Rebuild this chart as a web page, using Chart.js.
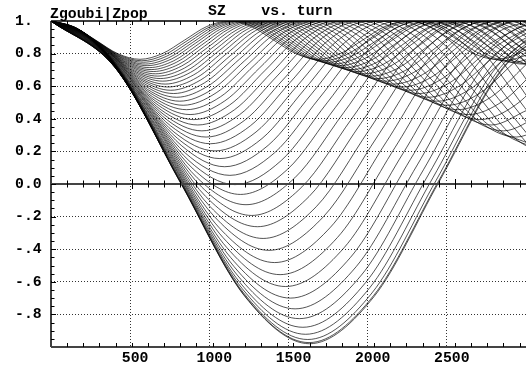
<!DOCTYPE html>
<html>
<head>
<meta charset="utf-8">
<title>SZ vs. turn</title>
<script src="https://cdn.jsdelivr.net/npm/chart.js@4.4.0/dist/chart.umd.min.js"></script>
<style>
  html, body { margin: 0; padding: 0; background: #fff; }
  canvas { display: block; }
</style>
</head>
<body>
<canvas id="sz" width="526" height="370"></canvas>
<script>
const titleLeft = 'Zgoubi|Zpop';
const titleRight = 'SZ    vs. turn';

const xTickLabels = ['', '500', '1000', '1500', '2000', '2500'];
const yTickLabels = ['', '-.8', '-.6', '-.4', '-.2', '0.0', '0.2', '0.4', '0.6', '0.8', '1.'];

// turn numbers sampled along each curve
const curveTurns = [
  [0,400,800,1200,1600,2000,2400,2800,3200],
  [0,399,799,1198,1597,1997,2396,2795,3195],
  [0,397,795,1192,1589,1987,2384,2781,3179],
  [0,394,788,1182,1576,1970,2364,2759,3153],
  [0,390,779,1169,1559,1948,2338,2728,3117],
  [0,384,768,1153,1537,1921,2305,2689,3073],
  [0,378,756,1133,1511,1889,2267,2644,3022],
  [0,371,741,1112,1482,1853,2224,2594,2965],
  [0,363,726,1089,1451,1814,2177,2540,2903,3266],
  [0,355,709,1064,1418,1773,2128,2482,2837,3191],
  [0,346,692,1038,1384,1730,2076,2422,2768,3114],
  [0,337,674,1012,1349,1686,2023,2360,2698,3035],
  [0,328,657,985,1313,1642,1970,2298,2626,2955],
  [0,319,639,958,1278,1597,1916,2236,2555,2875,3194],
  [0,311,621,932,1242,1553,1863,2174,2484,2795,3105],
  [0,302,604,905,1207,1509,1811,2112,2414,2716,3018],
  [0,293,586,880,1173,1466,1759,2052,2346,2639,2932,3225],
  [0,285,570,854,1139,1424,1709,1994,2279,2563,2848,3133],
  [0,277,553,830,1107,1383,1660,1937,2214,2490,2767,3044],
  [0,269,538,806,1075,1344,1613,1882,2150,2419,2688,2957],
  [0,261,522,784,1045,1306,1567,1828,2089,2351,2612,2873,3134],
  [0,254,508,761,1015,1269,1523,1777,2031,2284,2538,2792,3046],
  [0,247,493,740,987,1234,1480,1727,1974,2221,2467,2714,2961],
  [0,240,480,720,960,1200,1440,1679,1919,2159,2399,2639,2879,3119],
  [0,233,467,700,934,1167,1400,1634,1867,2100,2334,2567,2801,3034],
  [0,227,454,681,908,1135,1363,1590,1817,2044,2271,2498,2725,2952],
  [0,221,442,663,884,1105,1326,1547,1768,1990,2211,2432,2653,2874,3095],
  [0,215,431,646,861,1076,1292,1507,1722,1938,2153,2368,2583,2799,3014],
  [0,210,419,629,839,1049,1258,1468,1678,1888,2097,2307,2517,2726,2936,3146],
  [0,204,409,613,818,1022,1226,1431,1635,1840,2044,2249,2453,2657,2862,3066],
  [0,199,399,598,797,997,1196,1395,1594,1794,1993,2192,2392,2591,2790,2990],
  [0,194,389,583,778,972,1167,1361,1555,1750,1944,2139,2333,2527,2722,2916,3111],
  [0,190,379,569,759,949,1138,1328,1518,1708,1897,2087,2277,2466,2656,2846,3036],
  [0,185,370,556,741,926,1111,1297,1482,1667,1852,2038,2223,2408,2593,2778,2964],
  [0,181,362,543,724,905,1085,1266,1447,1628,1809,1990,2171,2352,2533,2714,2895,3075],
  [0,177,354,530,707,884,1061,1237,1414,1591,1768,1944,2121,2298,2475,2651,2828,3005],
  [0,173,346,518,691,864,1037,1209,1382,1555,1728,1901,2073,2246,2419,2592,2764,2937,3110],
  [0,169,338,507,676,845,1014,1183,1352,1521,1690,1858,2027,2196,2365,2534,2703,2872,3041],
  [0,165,331,496,661,826,992,1157,1322,1487,1653,1818,1983,2149,2314,2479,2644,2810,2975],
  [0,162,323,485,647,809,970,1132,1294,1456,1617,1779,1941,2102,2264,2426,2588,2749,2911,3073],
  [0,158,317,475,633,792,950,1108,1267,1425,1583,1742,1900,2058,2217,2375,2533,2692,2850,3008],
  [0,155,310,465,620,775,930,1085,1240,1396,1551,1706,1861,2016,2171,2326,2481,2636,2791,2946],
  [0,152,304,456,608,760,911,1063,1215,1367,1519,1671,1823,1975,2127,2279,2430,2582,2734,2886,3038],
  [0,149,298,447,595,744,893,1042,1191,1340,1489,1638,1786,1935,2084,2233,2382,2531,2680,2829,2977],
  [0,146,292,438,584,730,876,1022,1168,1313,1459,1605,1751,1897,2043,2189,2335,2481,2627,2773,2919,3065],
  [0,143,286,429,572,716,859,1002,1145,1288,1431,1574,1717,1860,2004,2147,2290,2433,2576,2719,2862,3005],
  [0,140,281,421,562,702,842,983,1123,1264,1404,1544,1685,1825,1965,2106,2246,2387,2527,2667,2808,2948],
  [0,138,276,413,551,689,827,964,1102,1240,1378,1515,1653,1791,1929,2066,2204,2342,2480,2617,2755,2893,3031]
];

// SZ at those turns
const curveSZ = [
  [1,0.710,0.010,-0.690,-0.980,-0.690,0.010,0.710,1],
  [1,0.711,0.013,-0.684,-0.973,-0.684,0.013,0.711,1],
  [1,0.714,0.023,-0.668,-0.954,-0.668,0.023,0.714,1],
  [1,0.719,0.039,-0.640,-0.922,-0.640,0.039,0.719,1],
  [1,0.725,0.061,-0.604,-0.879,-0.604,0.061,0.725,1],
  [1,0.733,0.087,-0.559,-0.826,-0.559,0.087,0.733,1],
  [1,0.741,0.117,-0.507,-0.766,-0.507,0.117,0.741,1],
  [1,0.751,0.150,-0.451,-0.700,-0.451,0.150,0.751,1],
  [1,0.761,0.185,-0.391,-0.629,-0.391,0.185,0.761,1,0.761],
  [1,0.772,0.222,-0.328,-0.556,-0.328,0.222,0.772,1,0.772],
  [1,0.783,0.259,-0.265,-0.482,-0.265,0.259,0.783,1,0.783],
  [1,0.794,0.296,-0.201,-0.407,-0.201,0.296,0.794,1,0.794],
  [1,0.805,0.333,-0.139,-0.334,-0.139,0.333,0.805,1,0.805],
  [1,0.815,0.369,-0.077,-0.262,-0.077,0.369,0.815,1,0.815,0.369],
  [1,0.825,0.403,-0.018,-0.193,-0.018,0.403,0.825,1,0.825,0.403],
  [1,0.835,0.437,0.038,-0.127,0.038,0.437,0.835,1,0.835,0.437],
  [1,0.844,0.468,0.092,-0.064,0.092,0.468,0.844,1,0.844,0.468,0.092],
  [1,0.853,0.498,0.143,-0.004,0.143,0.498,0.853,1,0.853,0.498,0.143],
  [1,0.861,0.526,0.191,0.053,0.191,0.526,0.861,1,0.861,0.526,0.191],
  [1,0.869,0.553,0.237,0.106,0.237,0.553,0.869,1,0.869,0.553,0.237],
  [1,0.876,0.578,0.279,0.156,0.279,0.578,0.876,1,0.876,0.578,0.279,0.156],
  [1,0.883,0.601,0.319,0.203,0.319,0.601,0.883,1,0.883,0.601,0.319,0.203],
  [1,0.890,0.623,0.357,0.247,0.357,0.623,0.890,1,0.890,0.623,0.357,0.247],
  [1,0.896,0.644,0.392,0.288,0.392,0.644,0.896,1,0.896,0.644,0.392,0.288,0.392],
  [1,0.901,0.663,0.425,0.326,0.425,0.663,0.901,1,0.901,0.663,0.425,0.326,0.425],
  [1,0.907,0.681,0.455,0.362,0.455,0.681,0.907,1,0.907,0.681,0.455,0.362,0.455],
  [1,0.911,0.698,0.484,0.395,0.484,0.698,0.911,1,0.911,0.698,0.484,0.395,0.484,0.698],
  [1,0.916,0.713,0.510,0.426,0.510,0.713,0.916,1,0.916,0.713,0.510,0.426,0.510,0.713],
  [1,0.920,0.728,0.535,0.456,0.535,0.728,0.920,1,0.920,0.728,0.535,0.456,0.535,0.728,0.920],
  [1,0.924,0.741,0.559,0.483,0.559,0.741,0.924,1,0.924,0.741,0.559,0.483,0.559,0.741,0.924],
  [1,0.928,0.754,0.580,0.508,0.580,0.754,0.928,1,0.928,0.754,0.580,0.508,0.580,0.754,0.928],
  [1,0.931,0.766,0.601,0.532,0.601,0.766,0.931,1,0.931,0.766,0.601,0.532,0.601,0.766,0.931,1],
  [1,0.935,0.777,0.620,0.555,0.620,0.777,0.935,1,0.935,0.777,0.620,0.555,0.620,0.777,0.935,1],
  [1,0.938,0.788,0.638,0.575,0.638,0.788,0.938,1,0.938,0.788,0.638,0.575,0.638,0.788,0.938,1],
  [1,0.941,0.798,0.654,0.595,0.654,0.798,0.941,1,0.941,0.798,0.654,0.595,0.654,0.798,0.941,1,0.941],
  [1,0.943,0.807,0.670,0.613,0.670,0.807,0.943,1,0.943,0.807,0.670,0.613,0.670,0.807,0.943,1,0.943],
  [1,0.946,0.815,0.685,0.631,0.685,0.815,0.946,1,0.946,0.815,0.685,0.631,0.685,0.815,0.946,1,0.946,0.815],
  [1,0.948,0.823,0.698,0.647,0.698,0.823,0.948,1,0.948,0.823,0.698,0.647,0.698,0.823,0.948,1,0.948,0.823],
  [1,0.950,0.831,0.711,0.662,0.711,0.831,0.950,1,0.950,0.831,0.711,0.662,0.711,0.831,0.950,1,0.950,0.831],
  [1,0.953,0.838,0.724,0.676,0.724,0.838,0.953,1,0.953,0.838,0.724,0.676,0.724,0.838,0.953,1,0.953,0.838,0.724],
  [1,0.955,0.845,0.735,0.690,0.735,0.845,0.955,1,0.955,0.845,0.735,0.690,0.735,0.845,0.955,1,0.955,0.845,0.735],
  [1,0.956,0.851,0.746,0.702,0.746,0.851,0.956,1,0.956,0.851,0.746,0.702,0.746,0.851,0.956,1,0.956,0.851,0.746],
  [1,0.958,0.857,0.756,0.714,0.756,0.857,0.958,1,0.958,0.857,0.756,0.714,0.756,0.857,0.958,1,0.958,0.857,0.756,0.714],
  [1,0.960,0.863,0.766,0.726,0.766,0.863,0.960,1,0.960,0.863,0.766,0.726,0.766,0.863,0.960,1,0.960,0.863,0.766,0.726],
  [1,0.961,0.868,0.775,0.736,0.775,0.868,0.961,1,0.961,0.868,0.775,0.736,0.775,0.868,0.961,1,0.961,0.868,0.775,0.736,0.775],
  [1,0.963,0.873,0.784,0.747,0.784,0.873,0.963,1,0.963,0.873,0.784,0.747,0.784,0.873,0.963,1,0.963,0.873,0.784,0.747,0.784],
  [1,0.964,0.878,0.792,0.756,0.792,0.878,0.964,1,0.964,0.878,0.792,0.756,0.792,0.878,0.964,1,0.964,0.878,0.792,0.756,0.792],
  [1,0.966,0.883,0.800,0.765,0.800,0.883,0.966,1,0.966,0.883,0.800,0.765,0.800,0.883,0.966,1,0.966,0.883,0.800,0.765,0.800,0.883]
];

const minorTurnStep = 100;
const minorSZStep = 0.05;

const monoBold = { family: '"Liberation Mono", "DejaVu Sans Mono", monospace', size: 14.8, weight: 'bold' };

const datasets = curveTurns.map((turns, i) => ({
  data: turns.map((t, j) => ({ x: t, y: curveSZ[i][j] })),
  borderColor: 'rgba(0,0,0,0.85)',
  borderWidth: 0.8,
  pointRadius: 0,
  fill: false,
  cubicInterpolationMode: 'monotone',
  capBezierPoints: false
}));

// frame, zero axis and the small tick marks
const frame = {
  id: 'frame',
  afterDatasetsDraw(chart) {
    const { ctx, chartArea: a, scales: { x, y } } = chart;
    const y0 = Math.round(y.getPixelForValue(0));
    ctx.save();
    ctx.strokeStyle = '#000';
    ctx.lineWidth = 1.5;
    ctx.beginPath();
    ctx.moveTo(a.left, a.top); ctx.lineTo(a.right, a.top);
    ctx.moveTo(a.left, a.top); ctx.lineTo(a.left, a.bottom);
    ctx.stroke();
    ctx.lineWidth = 2;
    ctx.strokeStyle = '#444';
    ctx.beginPath();
    ctx.moveTo(a.left, a.bottom); ctx.lineTo(a.right, a.bottom);
    ctx.moveTo(a.left, y0); ctx.lineTo(a.right, y0);
    ctx.stroke();

    ctx.lineWidth = 1;
    ctx.strokeStyle = '#000';
    ctx.beginPath();
    for (let t = minorTurnStep; t < x.max; t += minorTurnStep) {
      const px = Math.round(x.getPixelForValue(t)) + 0.5;
      const big = t % 500 === 0;
      ctx.moveTo(px, a.top); ctx.lineTo(px, a.top + 4);
      ctx.moveTo(px, a.bottom); ctx.lineTo(px, a.bottom - 4);
      ctx.moveTo(px, y0 - (big ? 5 : 3.5)); ctx.lineTo(px, y0 + (big ? 5 : 3.5));
    }
    for (let k = 1; k < 40; k++) {
      const py = Math.round(y.getPixelForValue(-1 + k * minorSZStep)) + 0.5;
      ctx.moveTo(a.left, py); ctx.lineTo(a.left + (k % 4 === 0 ? 5 : 3.5), py);
    }
    ctx.stroke();
    ctx.restore();
  }
};

const titleText = {
  id: 'titleText',
  afterDraw(chart) {
    const ctx = chart.ctx;
    ctx.save();
    ctx.fillStyle = '#000';
    ctx.font = 'bold 14.8px "Liberation Mono", "DejaVu Sans Mono", monospace';
    ctx.textBaseline = 'alphabetic';
    ctx.fillText(titleLeft, 50, 18);
    ctx.fillText(titleRight, 208, 15);
    ctx.restore();
  }
};

const gridColor = (ctx) => {
  const v = ctx.tick ? ctx.tick.value : 0;
  return (Math.abs(v) < 1e-9 || Math.abs(Math.abs(v) - 1) < 1e-9) ? 'rgba(0,0,0,0)' : '#333';
};

new Chart(document.getElementById('sz'), {
  type: 'line',
  data: { datasets },
  options: {
    responsive: false,
    animation: false,
    events: [],
    layout: { padding: { left: 15, top: 21, right: 0, bottom: 0 } },
    plugins: {
      legend: { display: false },
      tooltip: { enabled: false },
      title: { display: false }
    },
    scales: {
      x: {
        type: 'linear',
        min: 0,
        max: 2940,
        afterFit: (s) => { s.height = 23; },
        ticks: {
          stepSize: 500,
          includeBounds: false,
          autoSkip: false,
          maxRotation: 0,
          padding: 2,
          labelOffset: 5,
          color: '#000',
          font: monoBold,
          callback: (v, i) => xTickLabels[i]
        },
        grid: { drawTicks: false, lineWidth: 1, color: gridColor },
        border: { display: false, dash: [1, 2] }
      },
      y: {
        type: 'linear',
        min: -1,
        max: 1,
        afterFit: (s) => { s.width = 36; },
        ticks: {
          stepSize: 0.2,
          crossAlign: 'far',
          padding: 0,
          color: '#000',
          font: monoBold,
          callback: (v, i) => yTickLabels[i]
        },
        grid: { drawTicks: false, lineWidth: 1, color: gridColor },
        border: { display: false, dash: [1, 2] }
      }
    }
  },
  plugins: [frame, titleText]
});
</script>
</body>
</html>
